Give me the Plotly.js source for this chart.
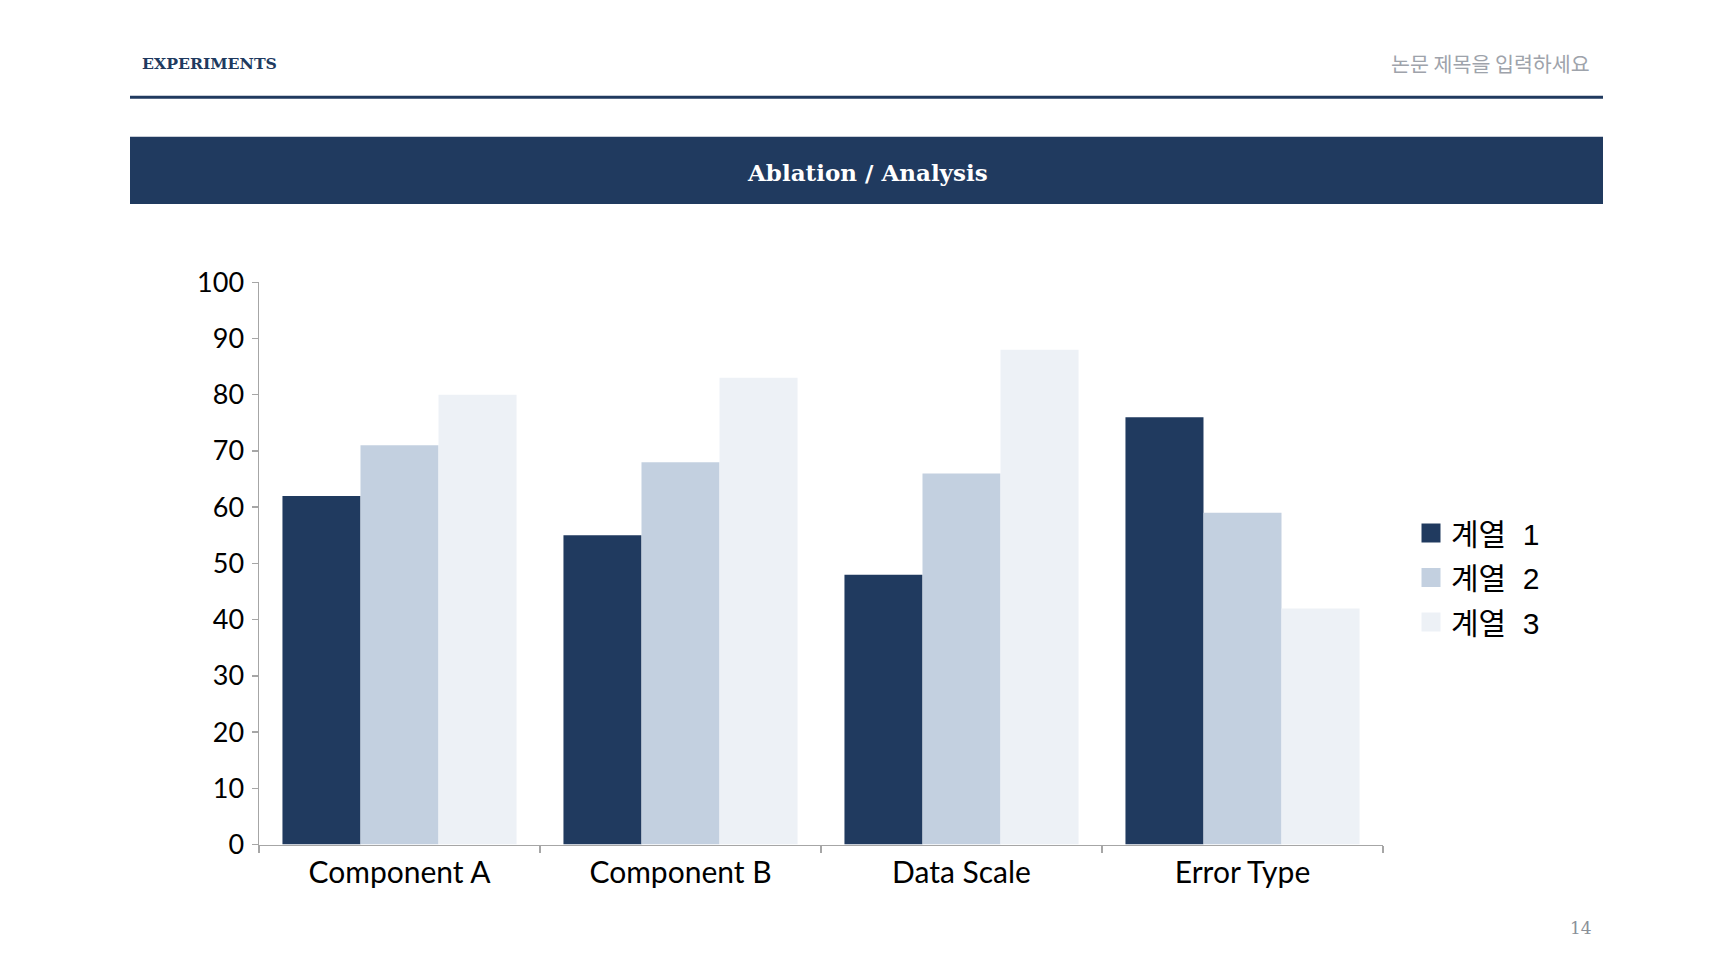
<!DOCTYPE html>
<html>
<head>
<meta charset="utf-8">
<script src="https://cdn.plot.ly/plotly-3.0.1.min.js"></script>
<style>
  html, body { margin: 0; padding: 0; background: #fff; }
  #chart { width: 1734px; height: 975px; }
</style>
</head>
<body>
<div id="chart"></div>
<script>
// chart data
const categories = ["Component A", "Component B", "Data Scale", "Error Type"];
const seriesNames = ["계열\u00a0 1", "계열\u00a0 2", "계열\u00a0 3"];
const series1 = [62, 55, 48, 76];
const series2 = [71, 68, 66, 59];
const series3 = [80, 83, 88, 42];
const yTicks = [0, 10, 20, 30, 40, 50, 60, 70, 80, 90, 100];

// page geometry (px) -> paper coords
const W = 1734, H = 975;
const px = (x) => x / W;
const py = (y) => 1 - y / H;

const navy = "#203A5F";
const colors = [navy, "#C3D0E0", "#EDF1F6"];
const axisGray = "#A6A6A6";

const traces = [series1, series2, series3].map((vals, i) => ({
    type: "bar",
    name: seriesNames[i],
    x: categories,
    y: vals,
    legendgroup: "g" + i,
    marker: { color: colors[i], line: { width: 0 } },
    hoverinfo: "x+y+name"
}));

const layout = {
    width: W,
    height: H,
    margin: { l: 0, r: 0, t: 0, b: 0 },
    paper_bgcolor: "#fff",
    plot_bgcolor: "#fff",
    barmode: "group",
    bargap: 0.167,
    bargroupgap: 0,
    font: { family: "Lato, 'Noto Sans CJK KR', sans-serif", color: "#000" },
    xaxis: {
        domain: [px(259), px(1383)],
        type: "category",
        tickson: "boundaries",
        ticks: "outside",
        ticklen: 7,
        tickwidth: 1.5,
        tickcolor: axisGray,
        showline: true,
        linecolor: axisGray,
        linewidth: 1.5,
        showgrid: false,
        tickfont: { size: 30, family: "Lato, sans-serif", color: "#000" },
        ticklabelstandoff: 1
    },
    yaxis: {
        domain: [py(844.5), py(282.3)],
        range: [0, 100],
        tickvals: yTicks,
        ticks: "outside",
        ticklen: 6,
        tickwidth: 1.5,
        tickcolor: axisGray,
        showline: true,
        linecolor: axisGray,
        linewidth: 1.5,
        showgrid: false,
        zeroline: false,
        tickfont: { size: 27, family: "Lato, sans-serif", color: "#000" },
        ticklabelstandoff: 2
    },
    showlegend: true,
    legend: {
        x: px(1411),
        xanchor: "left",
        y: py(507),
        yanchor: "top",
        traceorder: "grouped",
        tracegroupgap: 2.5,
        font: { size: 30, family: "'Liberation Sans', 'Noto Sans CJK KR', sans-serif", color: "#000" },
        bgcolor: "rgba(0,0,0,0)"
    },
    shapes: [
        // header rule
        { type: "line", xref: "paper", yref: "paper", x0: px(130), x1: px(1603), y0: py(97.3), y1: py(97.3),
          line: { color: navy, width: 3 } },
        // title banner
        { type: "rect", xref: "paper", yref: "paper", x0: px(130), x1: px(1603), y0: py(136.7), y1: py(204),
          fillcolor: navy, line: { width: 0 }, layer: "below" }
    ],
    annotations: [
        { text: "<b>EXPERIMENTS</b>", xref: "paper", yref: "paper", x: px(140), y: py(63.3),
          xanchor: "left", yanchor: "middle", showarrow: false,
          font: { family: "'DejaVu Serif', serif", size: 15.7, color: navy } },
        { text: "논문 제목을 입력하세요", xref: "paper", yref: "paper", x: px(1592), y: py(63),
          xanchor: "right", yanchor: "middle", showarrow: false,
          font: { family: "'Noto Sans CJK KR', sans-serif", size: 20.6, color: "#9EA3AB" } },
        { text: "<b>Ablation / Analysis</b>", xref: "paper", yref: "paper", x: px(867), y: py(172),
          xanchor: "center", yanchor: "middle", showarrow: false,
          font: { family: "'DejaVu Serif', serif", size: 23, color: "#ffffff" } },
        { text: "14", xref: "paper", yref: "paper", x: px(1581), y: py(928),
          xanchor: "center", yanchor: "middle", showarrow: false,
          font: { family: "'DejaVu Serif', serif", size: 17, color: "#8A9099" } }
    ]
};

Plotly.newPlot("chart", traces, layout, { staticPlot: true, displayModeBar: false }).then(() => {
    // legend squares are bigger in the reference (19px instead of 12px)
    document.querySelectorAll("#chart .legendpoints path").forEach(p => {
        const d = p.getAttribute("d") || "";
        if (/^M6,6H-6V-6H6Z$/.test(d.replace(/\s/g, ""))) {
            p.setAttribute("d", "M9.5,9.5H-9.5V-9.5H9.5Z");
        }
    });
});
</script>
</body>
</html>
